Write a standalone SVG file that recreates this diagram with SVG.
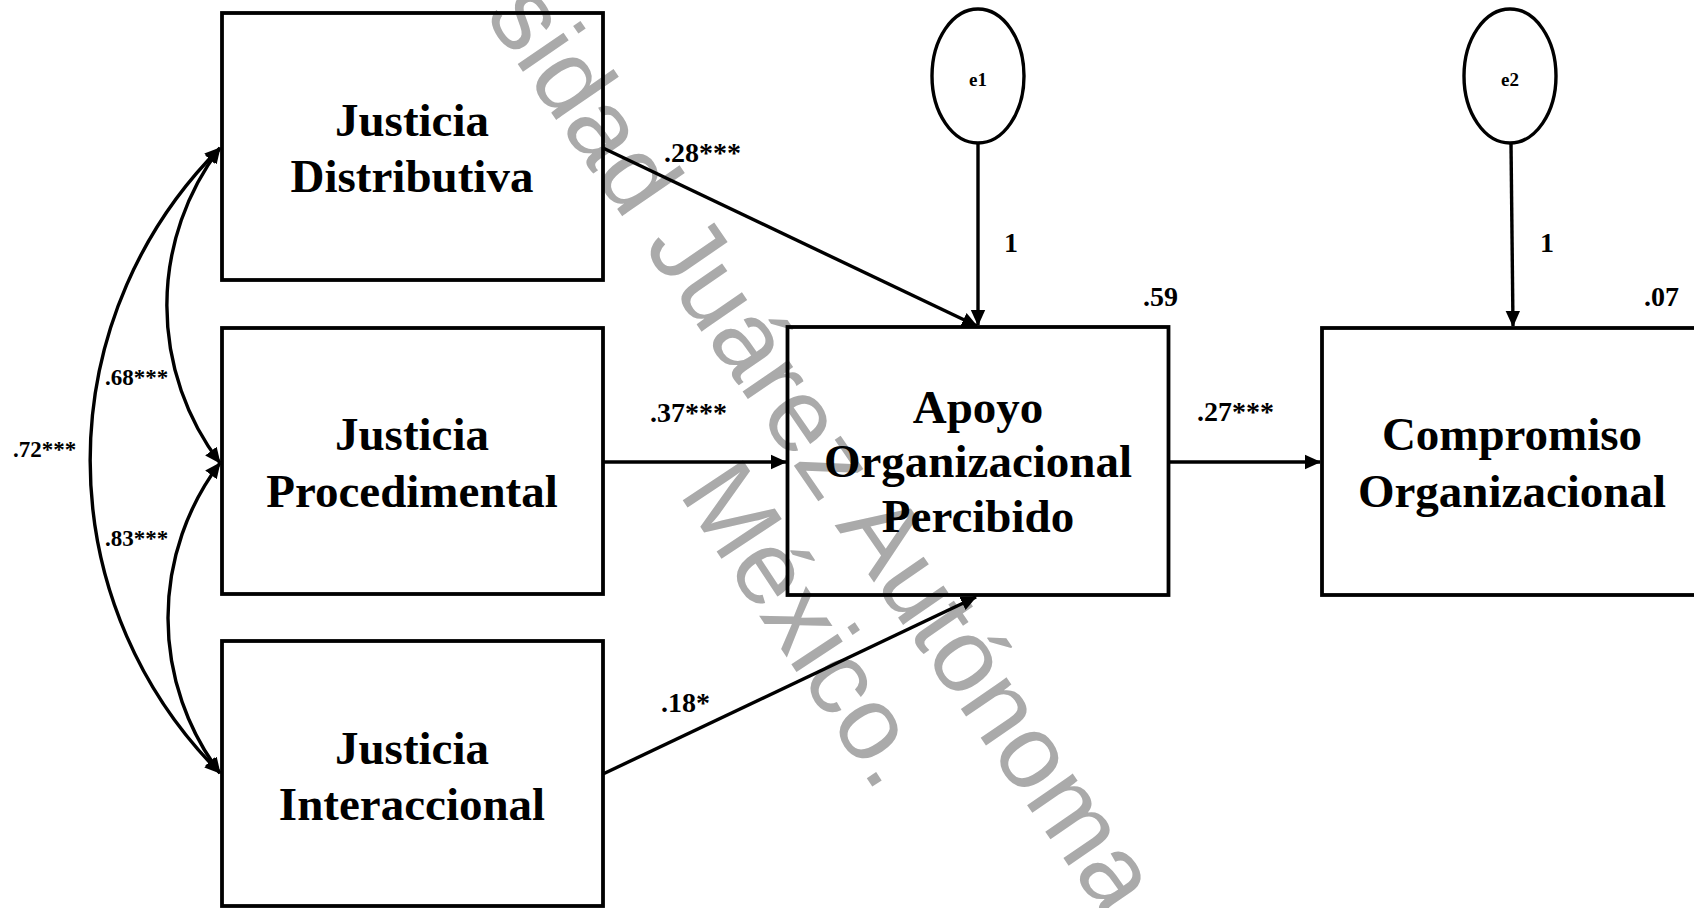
<svg xmlns="http://www.w3.org/2000/svg" width="1694" height="908" viewBox="0 0 1694 908">
<style>
.bg{fill:#ffffff}
.wm{fill:#aaaaaa;font-family:"Liberation Sans",Arial,sans-serif;font-size:105px}
.box{fill:none;stroke:#000;stroke-width:3.8}
.err{fill:none;stroke:#000;stroke-width:3.4}
.node{fill:#000;font-family:"Liberation Serif","Times New Roman",serif;font-weight:bold;font-size:47px;text-anchor:middle}
.small{fill:#000;font-family:"Liberation Serif","Times New Roman",serif;font-weight:bold;font-size:19px;text-anchor:middle}
.lbl{fill:#000;font-family:"Liberation Serif","Times New Roman",serif;font-weight:bold;font-size:28px}
.cov{fill:#000;font-family:"Liberation Serif","Times New Roman",serif;font-weight:bold;font-size:23px}
.line{fill:none;stroke:#000;stroke-width:3.4}
</style>
<defs>
<marker id="ah" viewBox="0 0 16 16" refX="15" refY="8" markerWidth="16" markerHeight="16" markerUnits="userSpaceOnUse" orient="auto-start-reverse">
<path d="M0,0.8 L16,8 L0,15.2 z" fill="#000"/>
</marker>
</defs>
<rect class="bg" x="0" y="0" width="1694" height="908"/>
<g id="watermark">
<text class="wm" transform="translate(484,15) rotate(55.5)">sidad Juárez Autónoma</text>
<text class="wm" transform="translate(678,493) rotate(56.5)">México.</text>
</g>
<g id="connectors">
<path class="line" d="M220,148 A260,260 0 0 0 220,463" marker-start="url(#ah)" marker-end="url(#ah)"/>
<path class="line" d="M220,463 A257,257 0 0 0 220,773" marker-start="url(#ah)" marker-end="url(#ah)"/>
<path class="line" d="M220,148 A441,441 0 0 0 220,773" marker-start="url(#ah)" marker-end="url(#ah)"/>
<path class="line" d="M603,148 L977,326" marker-end="url(#ah)"/>
<path class="line" d="M603,462 L786,462" marker-end="url(#ah)"/>
<path class="line" d="M603,774 L976,597" marker-end="url(#ah)"/>
<path class="line" d="M1169,462 L1320,462" marker-end="url(#ah)"/>
<path class="line" d="M978,143 L978,325" marker-end="url(#ah)"/>
<path class="line" d="M1511,143 L1513,326" marker-end="url(#ah)"/>
<text class="cov" x="105" y="385">.68***</text>
<text class="cov" x="13" y="457">.72***</text>
<text class="cov" x="105" y="546">.83***</text>
<text class="lbl" x="664" y="162">.28***</text>
<text class="lbl" x="650" y="422">.37***</text>
<text class="lbl" x="661" y="712">.18*</text>
<text class="lbl" x="1197" y="421">.27***</text>
<text class="lbl" x="1011" y="252" text-anchor="middle">1</text>
<text class="lbl" x="1547" y="252" text-anchor="middle">1</text>
</g>
<g id="jd">
<rect class="box" x="222" y="13" width="381" height="267"/>
<text class="node" x="412" y="136">Justicia</text>
<text class="node" x="412" y="192">Distributiva</text>
</g>
<g id="jp">
<rect class="box" x="222" y="328" width="381" height="266"/>
<text class="node" x="412" y="450">Justicia</text>
<text class="node" x="412" y="507">Procedimental</text>
</g>
<g id="ji">
<rect class="box" x="222" y="641" width="381" height="265"/>
<text class="node" x="412" y="764">Justicia</text>
<text class="node" x="412" y="820">Interaccional</text>
</g>
<g id="apo">
<rect class="box" x="787.5" y="327" width="381" height="268"/>
<text class="node" x="978" y="423">Apoyo</text>
<text class="node" x="978" y="477">Organizacional</text>
<text class="node" x="978" y="532">Percibido</text>
<text class="lbl" x="1143" y="306">.59</text>
</g>
<g id="co">
<rect class="box" x="1322" y="328" width="381" height="267"/>
<text class="node" x="1512" y="450">Compromiso</text>
<text class="node" x="1512" y="507">Organizacional</text>
<text class="lbl" x="1644" y="306">.07</text>
</g>
<g id="e1">
<ellipse class="err" cx="978" cy="76" rx="46" ry="67"/>
<text class="small" x="978" y="86">e1</text>
</g>
<g id="e2">
<ellipse class="err" cx="1510" cy="76" rx="46" ry="67"/>
<text class="small" x="1510" y="86">e2</text>
</g>
</svg>
